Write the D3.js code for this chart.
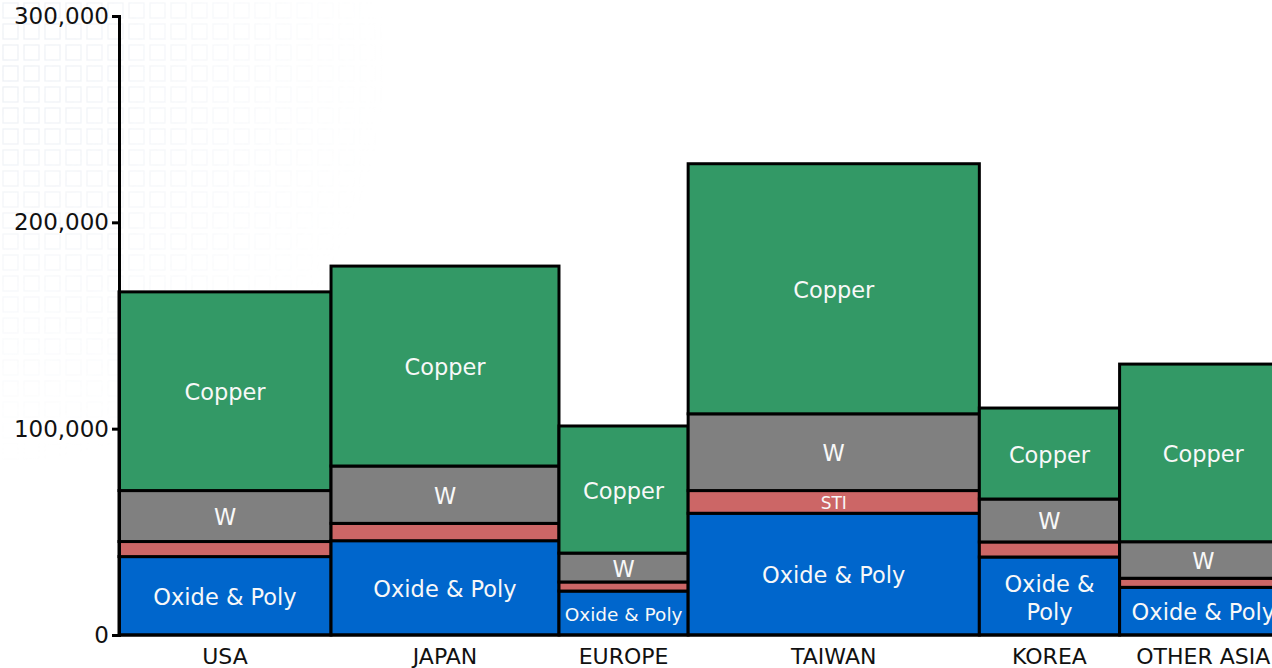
<!DOCTYPE html>
<html>
<head>
<meta charset="utf-8">
<script src="https://cdn.jsdelivr.net/npm/d3@7"></script>
<style>
	body { margin:0; background:#fff; overflow:hidden; }
	text { font-family:"DejaVu Sans", Verdana, sans-serif; }
</style>
</head>
<body>
<div id="chart"><svg></svg></div>
<script>
var regions = ["USA", "JAPAN", "EUROPE", "TAIWAN", "KOREA", "OTHER ASIA"];
var layers = ["Oxide & Poly", "STI", "W", "Copper"];
var oxide  = [38000, 45700, 21300, 59000, 37800, 23100];
var sti    = [7300, 8400, 4400, 11000, 7300, 4400];
var tung   = [24700, 27800, 14000, 37200, 20800, 17700];
var copper = [96300, 96900, 61600, 121200, 44100, 86100];
var yTicks = [0, 100000, 200000, 300000];

var colors = { "Oxide & Poly":"#0066cc", "STI":"#cc6666", "W":"#808080", "Copper":"#339966" };

var W = 1272, H = 668;
var mg = { top:16, left:119, bottom:33 };
var svg = d3.select("#chart > svg").attr("width", W).attr("height", H);

// faint squares in the background, fading out from the top left
var defs = svg.append("defs");
var pat = defs.append("pattern").attr("id", "sq")
	.attr("width", 21).attr("height", 21).attr("patternUnits", "userSpaceOnUse");
pat.append("rect").attr("x", 3).attr("y", 3).attr("width", 15).attr("height", 15)
	.attr("fill", "none").attr("stroke", "#dde3ec").attr("stroke-width", 1.3);
var grad = defs.append("radialGradient").attr("id", "fade")
	.attr("cx", 0).attr("cy", 0.1).attr("r", 0.6).attr("gradientUnits", "objectBoundingBox");
grad.append("stop").attr("offset", "0").attr("stop-color", "#fff").attr("stop-opacity", 0.75);
grad.append("stop").attr("offset", "0.55").attr("stop-color", "#fff").attr("stop-opacity", 0.35);
grad.append("stop").attr("offset", "1").attr("stop-color", "#fff").attr("stop-opacity", 0);
defs.append("mask").attr("id", "bgmask")
	.append("rect").attr("width", 650).attr("height", H).attr("fill", "url(#fade)");
svg.append("rect").attr("width", 650).attr("height", H)
	.attr("fill", "url(#sq)").attr("mask", "url(#bgmask)").attr("opacity", 0.7);

// build rows
var data = regions.map(function(r, i){
	var vals = [oxide[i], sti[i], tung[i], copper[i]];
	var y0 = 0, segs = [];
	vals.forEach(function(v, j){
		segs.push({ layer:layers[j], y0:y0, y1:y0 + v });
		y0 += v;
	});
	return { region:r, idx:i, total:y0, segs:segs };
});
var cum = 0;
data.forEach(function(d){ d.x0 = cum; cum += d.total; d.x1 = cum; });

var x = d3.scaleLinear().domain([0, cum]).range([mg.left, 1287]);
var y = d3.scaleLinear().domain([0, 300000]).range([H - mg.bottom, mg.top]);

var g = svg.append("g");
var bars = g.selectAll("g.bar").data(data).enter().append("g").attr("class", "bar");
bars.selectAll("rect").data(function(d){
		return d.segs.map(function(s){ return { p:d, s:s }; });
	}).enter().append("rect")
	.attr("x", function(d){ return x(d.p.x0); })
	.attr("width", function(d){ return x(d.p.x1) - x(d.p.x0); })
	.attr("y", function(d){ return y(d.s.y1); })
	.attr("height", function(d){ return y(d.s.y0) - y(d.s.y1); })
	.attr("fill", function(d){ return colors[d.s.layer]; })
	.attr("stroke", "#000").attr("stroke-width", 3);

// segment labels
var labelSize = { "EUROPE": { "Oxide & Poly":18.5 } };
bars.selectAll("text.seg").data(function(d){
		return d.segs.filter(function(s){
			return s.layer != "STI" || d.region == "TAIWAN";
		}).map(function(s){ return { p:d, s:s }; });
	}).enter().append("text").attr("class", "seg")
	.attr("x", function(d){ return (x(d.p.x0) + x(d.p.x1)) / 2; })
	.attr("y", function(d){ return (y(d.s.y0) + y(d.s.y1)) / 2 + 1; })
	.attr("text-anchor", "middle").attr("dominant-baseline", "central")
	.attr("fill", "#f8f8f8")
	.style("font-size", function(d){
		if(d.s.layer == "STI") return "17px";
		var o = labelSize[d.p.region];
		return (o && o[d.s.layer] ? o[d.s.layer] : 22.5) + "px";
	})
	.each(function(d){
		var t = d3.select(this);
		if(d.p.region == "KOREA" && d.s.layer == "Oxide & Poly"){
			t.append("tspan").attr("x", t.attr("x")).attr("dy", "-0.6em").text("Oxide &");
			t.append("tspan").attr("x", t.attr("x")).attr("dy", "1.25em").text("Poly");
		} else {
			t.text(d.s.layer);
		}
	});

// category labels
g.selectAll("text.cat").data(data).enter().append("text").attr("class", "cat")
	.attr("x", function(d){ return (x(d.x0) + x(d.x1)) / 2; })
	.attr("y", H - 4)
	.attr("text-anchor", "middle").attr("fill", "#111")
	.style("font-size", "22px")
	.text(function(d){ return d.region; });

// axes
var ya = svg.append("g").attr("transform", "translate(" + mg.left + ",0)")
	.call(d3.axisLeft(y).tickValues(yTicks).tickFormat(d3.format(",")).tickSizeOuter(0).tickSize(7).tickPadding(3));
ya.select(".domain").attr("stroke", "#000").attr("stroke-width", 3);
ya.selectAll(".tick line").attr("stroke", "#000").attr("stroke-width", 3);
ya.selectAll(".tick text").style("font-size", "23px").style("font-family", "DejaVu Sans, Verdana, sans-serif").attr("fill", "#111");

svg.append("line")
	.attr("x1", mg.left - 1).attr("x2", W)
	.attr("y1", y(0)).attr("y2", y(0))
	.attr("stroke", "#000").attr("stroke-width", 3);
</script>
</body>
</html>
